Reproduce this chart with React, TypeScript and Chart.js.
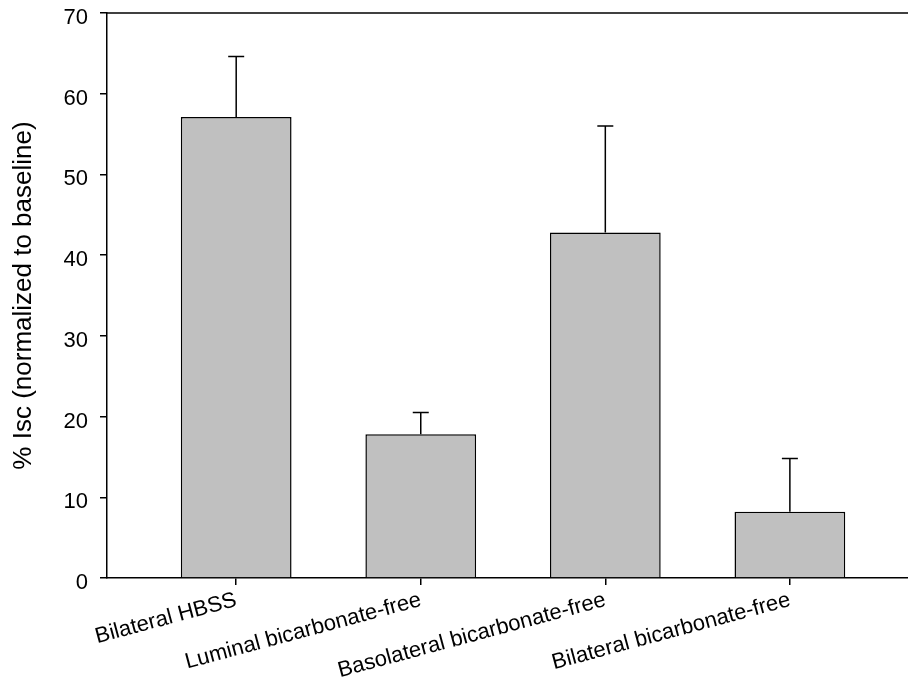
import React, { useEffect, useRef } from "react";
import { Chart, registerables } from "chart.js";

Chart.register(...registerables);

const categories = [
  "Bilateral HBSS",
  "Luminal bicarbonate-free",
  "Basolateral bicarbonate-free",
  "Bilateral bicarbonate-free",
];
const means = [57.1, 17.8, 42.8, 8.2];
const errorTops = [64.6, 20.5, 56.0, 14.8];
const yTicks = [0, 10, 20, 30, 40, 50, 60, 70];

const FONT = "'Liberation Sans', Arial, sans-serif";

const errorBarPlugin = {
  id: "errorBars",
  afterDatasetsDraw(chart: any) {
    const { ctx, scales } = chart;
    const xs = scales.x;
    const ys = scales.y;
    ctx.save();
    ctx.strokeStyle = "#000";
    ctx.lineWidth = 1.5;
    means.forEach((m, i) => {
      const x = xs.getPixelForValue(i + 1);
      const y0 = ys.getPixelForValue(m);
      const y1 = ys.getPixelForValue(errorTops[i]);
      ctx.beginPath();
      ctx.moveTo(x, y0);
      ctx.lineTo(x, y1);
      ctx.moveTo(x - 8, y1);
      ctx.lineTo(x + 8, y1);
      ctx.stroke();
    });
    ctx.restore();
  },
};

const topLinePlugin = {
  id: "topLine",
  afterDraw(chart: any) {
    const { ctx, chartArea } = chart;
    ctx.save();
    ctx.strokeStyle = "#000";
    ctx.lineWidth = 1.5;
    ctx.beginPath();
    ctx.moveTo(chartArea.left, chartArea.top);
    ctx.lineTo(chartArea.right, chartArea.top);
    ctx.stroke();
    ctx.restore();
  },
};

export default function App() {
  const ref = useRef<HTMLCanvasElement | null>(null);
  useEffect(() => {
    if (!ref.current) return;
    const chart = new Chart(ref.current, {
      type: "bar",
      data: {
        datasets: [
          {
            data: means.map((v, i) => ({ x: i + 1, y: v })),
            backgroundColor: "#c0c0c0",
            borderColor: "#000",
            borderWidth: 1.5,
            borderSkipped: "bottom",
            barPercentage: 0.6,
            categoryPercentage: 1,
          },
        ],
      },
      options: {
        animation: false,
        responsive: true,
        maintainAspectRatio: false,
        layout: { padding: { top: 13, right: 0, left: 0, bottom: 0 } },
        plugins: { legend: { display: false }, tooltip: { enabled: false } },
        scales: {
          x: {
            type: "linear",
            offset: false,
            min: 0.3,
            max: 4.64,
            afterBuildTicks: (scale: any) => {
              scale.ticks = categories.map((_, i) => ({ value: i + 1 }));
            },
            afterFit: (scale: any) => {
              scale.height = 103;
              scale.paddingLeft = 0;
              scale.paddingRight = 0;
              scale.paddingTop = 0;
              scale.paddingBottom = 0;
            },
            ticks: {
              autoSkip: false,
              minRotation: 15,
              maxRotation: 15,
              padding: 2,
              color: "#000",
              font: { family: FONT, size: 22 },
              callback: (v: any) => categories[Math.round(Number(v)) - 1] ?? "",
            },
            grid: {
              display: true,
              offset: false,
              drawOnChartArea: false,
              drawTicks: true,
              tickLength: 7,
              color: "#000",
              lineWidth: 1.5,
            },
            border: { display: true, color: "#000", width: 1.5 },
          },
          y: {
            min: 0,
            max: 70,
            afterBuildTicks: (scale: any) => {
              scale.ticks = yTicks.map((v) => ({ value: v }));
            },
            afterFit: (scale: any) => {
              scale.width = 107;
              scale.paddingTop = 0;
              scale.paddingBottom = 0;
              scale.paddingLeft = 0;
              scale.paddingRight = 0;
            },
            ticks: {
              padding: 12,
              labelOffset: 5,
              color: "#000",
              font: { family: FONT, size: 22 },
            },
            grid: {
              display: true,
              drawOnChartArea: false,
              drawTicks: true,
              tickLength: 7,
              color: "#000",
              lineWidth: 1.5,
            },
            border: { display: true, color: "#000", width: 1.5 },
            title: {
              display: true,
              text: "% Isc (normalized to baseline)",
              color: "#000",
              font: { family: FONT, size: 26 },
              padding: { top: 8, bottom: 0 },
            },
          },
        },
      },
      plugins: [errorBarPlugin, topLinePlugin],
    });
    return () => chart.destroy();
  }, []);
  return (
    <div style={{ position: "absolute", left: 0, top: 0, width: 908, height: 681 }}>
      <canvas ref={ref} />
    </div>
  );
}
